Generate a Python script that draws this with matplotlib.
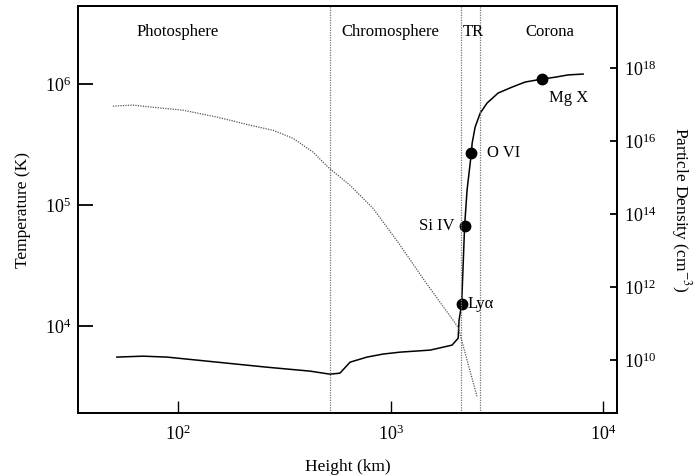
import matplotlib
matplotlib.use("Agg")
import matplotlib.pyplot as plt
import numpy as np

plt.rcParams["font.family"] = ["Liberation Serif", "DejaVu Serif"]
plt.rcParams["mathtext.fontset"] = "stix"

# temperature profile (km, K)
height_t = [51.6, 68.4, 88.8, 153, 262, 418, 519, 578, 645, 775, 922, 1110,
            1536, 1946, 2080, 2100, 2160, 2230, 2290, 2400, 2420, 2500, 2640,
            2845, 3205, 3730, 4300, 5165, 5945, 6840, 8050]
temp = [5550, 5650, 5550, 5040, 4580, 4250, 4010, 4090, 5040, 5550, 5880,
        6100, 6340, 6970, 7950, 11200, 15200, 67000, 133000, 270000, 325000,
        442000, 575000, 697000, 843000, 944000, 1.04e6, 1.1e6, 1.14e6,
        1.19e6, 1.21e6]

# particle density (km, cm^-3)
height_n = [49.4, 61.4, 76.2, 105.6, 153, 218, 280, 348, 432, 508, 645, 827,
            1085, 1452, 2080, 2290, 2550]
dens_exp = [16.96, 16.99, 16.93, 16.85, 16.66, 16.44, 16.30, 16.08, 15.70,
            15.29, 14.79, 14.16, 13.23, 12.16, 10.90, 10.0, 9.01]
dens = [10 ** e for e in dens_exp]

# emission lines
lines = ["Ly\u03b1", "Si IV", "O VI", "Mg X"]
line_h = [2160, 2230, 2400, 5165]
line_t = [15200, 67000, 270000, 1.1e6]

boundaries = [519, 2150, 2640]
regions = ["Photosphere", "Chromosphere", "TR", "Corona"]
region_x = [100, 1000, 2460, 5600]

fig = plt.figure(figsize=(6.95, 4.76), dpi=100)
ax = fig.add_axes([0.112, 0.132, 0.776, 0.855])
ax2 = ax.twinx()

ax.plot(height_t, temp, color="black", lw=1.1)
ax.plot(line_h, line_t, "o", color="black", ms=7.5)
ax2.plot(height_n, dens, color="#555555", lw=0.9, ls=(0, (1, 1)))

for b in boundaries:
    ax.axvline(b, color="#777777", lw=0.9, ls=(0, (1, 1)))

ax.set_xscale("log")
ax.set_yscale("log")
ax2.set_yscale("log")
ax.set_xlim(33.8, 11640)
ax.set_ylim(1910, 4.4e6)
ax2.set_ylim(10**8.548, 10**19.70)

ax.set_xticks([1e2, 1e3, 1e4])
ax.set_yticks([1e4, 1e5, 1e6])
ax2.set_yticks([1e10, 1e12, 1e14, 1e16, 1e18])
ax.minorticks_off()
ax2.minorticks_off()
ax.tick_params(axis="x", direction="in", length=9, width=1, labelsize=13, pad=8)
ax.tick_params(axis="y", direction="in", length=11, width=1.3, labelsize=13, pad=5)
ax2.tick_params(axis="y", direction="in", length=5, width=1.3, labelsize=13, pad=5)

for a in (ax, ax2):
    for s in a.spines.values():
        s.set_linewidth(1.3)

ax.set_xlabel("Height (km)", fontsize=12.5, labelpad=11)
ax.set_ylabel("Temperature (K)", fontsize=12.5, labelpad=10)
fig.text(681 / 695, 1 - 210 / 476, "Particle Density (cm$^{-3}$)",
         fontsize=12.5, rotation=270, ha="center", va="center")

for name, x in zip(regions, region_x):
    ax.text(x, 2.7e6, name, ha="center", va="center", fontsize=12)

ax.text(2290, 15200, "Ly\u03b1", ha="left", va="center", fontsize=12)
ax.text(1990, 67000, "Si IV", ha="right", va="center", fontsize=12)
ax.text(2845, 270000, "O VI", ha="left", va="center", fontsize=12)
ax.text(6900, 0.77e6, "Mg X", ha="center", va="center", fontsize=12)

fig.savefig("out.png", dpi=100)
